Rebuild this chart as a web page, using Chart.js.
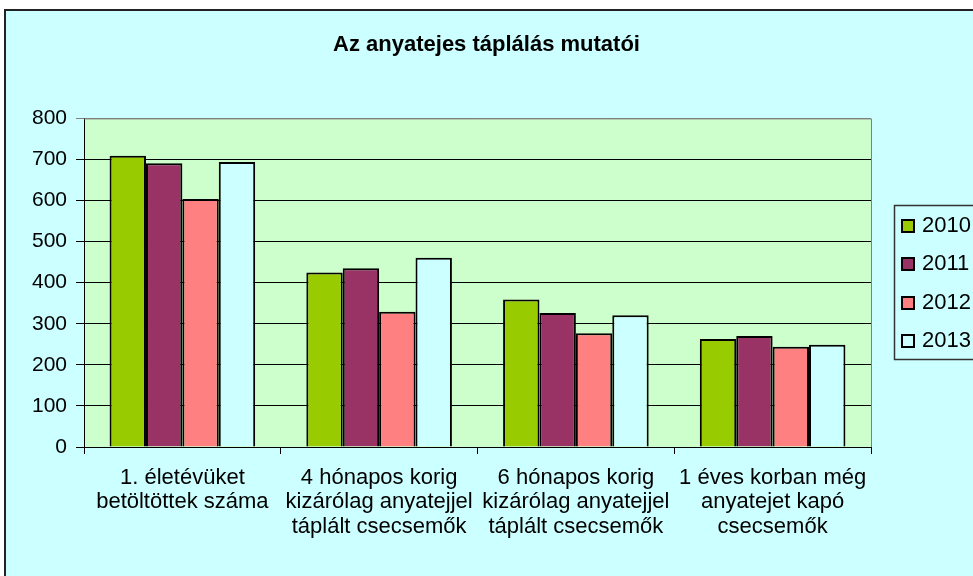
<!DOCTYPE html>
<html lang="hu">
<head>
<meta charset="utf-8">
<title>Az anyatejes táplálás mutatói</title>
<script src="https://cdn.jsdelivr.net/npm/chart.js@4.4.0/dist/chart.umd.min.js"></script>
<style>
  html, body { margin: 0; padding: 0; background: #fff; overflow: hidden; }
  #wrap { width: 973px; height: 576px; }
</style>
</head>
<body>
<div id="wrap"><canvas id="chart" width="973" height="576"></canvas></div>
<script>
// chart data
const categories = [
  ['1. életévüket', 'betöltöttek száma'],
  ['4 hónapos korig', 'kizárólag anyatejjel', 'táplált csecsemők'],
  ['6 hónapos korig', 'kizárólag anyatejjel', 'táplált csecsemők'],
  ['1 éves korban még', 'anyatejet kapó', 'csecsemők'],
];
const years = ['2010', '2011', '2012', '2013'];
const values2010 = [709, 425, 359, 263];
const values2011 = [691, 435, 326, 270];
const values2012 = [604, 329, 277, 244];
const values2013 = [694, 461, 321, 249];
const yTickValues = [0, 100, 200, 300, 400, 500, 600, 700, 800];

const seriesColors = ['#99CC00', '#993366', '#FF8080', '#CCFFFF'];
const FONT = '"Liberation Sans", Arial, sans-serif';

// frame, plot area background
const framePlugin = {
  id: 'frame',
  beforeDraw(chart) {
    const { ctx, chartArea: a } = chart;
    ctx.save();
    ctx.fillStyle = '#ffffff';
    ctx.fillRect(0, 0, chart.width, chart.height);
    ctx.fillStyle = '#CCFFFF';
    ctx.fillRect(5, 10, chart.width, chart.height);
    ctx.strokeStyle = '#222';
    ctx.lineWidth = 2;
    ctx.strokeRect(5, 10, chart.width + 20, chart.height + 20);
    ctx.fillStyle = '#CCFFCC';
    ctx.fillRect(a.left, a.top, a.right - a.left, a.bottom - a.top);
    ctx.restore();
  },
  beforeDatasetsDraw(chart) {
    const { ctx, chartArea: a } = chart;
    ctx.save();
    ctx.strokeStyle = '#808080';
    ctx.lineWidth = 1;
    ctx.beginPath();
    ctx.moveTo(a.left, a.top + 0.5);
    ctx.lineTo(a.right + 0.5, a.top + 0.5);
    ctx.lineTo(a.right + 0.5, a.bottom);
    ctx.stroke();
    ctx.restore();
  },
};

// legend in a box on the right, cut by the page edge
const legendPlugin = {
  id: 'boxLegend',
  afterDraw(chart) {
    const ctx = chart.ctx;
    const left = 894, top = 205, bottom = 359;
    const firstY = 226, step = 38.4;
    ctx.save();
    ctx.strokeStyle = '#333';
    ctx.lineWidth = 1.5;
    ctx.strokeRect(left + 0.5, top + 0.5, 120, bottom - top);
    ctx.font = '22px ' + FONT;
    ctx.textBaseline = 'middle';
    chart.data.datasets.forEach((ds, i) => {
      const y = Math.round(firstY + i * step);
      ctx.fillStyle = ds.backgroundColor;
      ctx.fillRect(902, y - 6, 12, 12);
      ctx.strokeStyle = '#000';
      ctx.lineWidth = 2;
      ctx.strokeRect(902, y - 6, 12, 12);
      ctx.fillStyle = '#000';
      ctx.fillText(ds.label, 922, y);
    });
    ctx.restore();
  },
};

const seriesValues = [values2010, values2011, values2012, values2013];

new Chart(document.getElementById('chart'), {
  type: 'bar',
  data: {
    labels: categories,
    datasets: years.map((y, i) => ({
      label: y,
      data: seriesValues[i],
      backgroundColor: seriesColors[i],
      borderColor: '#000',
      borderWidth: 2,
      categoryPercentage: 0.74,
      barPercentage: 1.0,
    })),
  },
  options: {
    responsive: false,
    animation: false,
    devicePixelRatio: 1,
    layout: { padding: 0 },
    plugins: {
      legend: { display: false },
      tooltip: { enabled: false },
      title: {
        display: true,
        text: 'Az anyatejes táplálás mutatói',
        color: '#000',
        font: { family: FONT, size: 22, weight: 'bold' },
        padding: { top: 32, bottom: 60 },
      },
    },
    scales: {
      x: {
        offset: true,
        grid: {
          offset: true,
          drawOnChartArea: false,
          drawTicks: true,
          tickLength: 7,
          color: '#000',
        },
        border: { color: '#000', width: 1 },
        ticks: {
          color: '#000',
          padding: 12,
          maxRotation: 0,
          autoSkip: false,
          font: { family: FONT, size: 22, lineHeight: 1.1 },
        },
        afterFit(scale) { scale.height = 129; },
      },
      y: {
        min: 0,
        max: 800,
        afterBuildTicks(scale) {
          scale.ticks = yTickValues.map(v => ({ value: v }));
        },
        grid: {
          color: ctx => (ctx.tick && ctx.tick.value === 800 ? '#808080' : '#000'),
          lineWidth: 1,
          tickLength: 8,
        },
        border: { color: '#000', width: 1 },
        ticks: {
          color: '#000',
          padding: 9,
          font: { family: FONT, size: 21 },
        },
        afterFit(scale) { scale.width = 84; },
      },
      // empty right-hand space for the legend box, keeps the title centred on the page
      legendSpace: {
        position: 'right',
        grid: { display: false, drawTicks: false },
        ticks: { display: false },
        border: { display: false },
        afterFit(scale) { scale.width = 102; },
      },
    },
  },
  plugins: [framePlugin, legendPlugin],
});
</script>
</body>
</html>
